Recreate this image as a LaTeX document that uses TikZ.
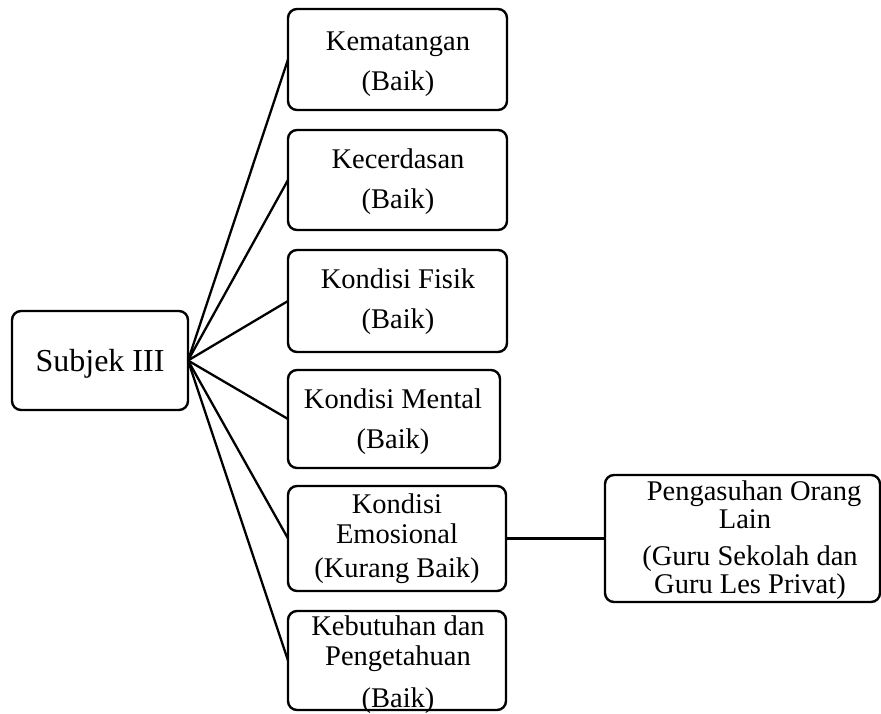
\documentclass[tikz,border=0pt]{standalone}
\usepackage{fontspec}
\setmainfont{Liberation Serif}
\begin{document}
\begin{tikzpicture}[x=1pt,y=-1pt,
  box/.style={draw, line width=2.4pt, rounded corners=9pt, inner sep=0pt, outer sep=0pt},
  txt/.style={inner sep=0pt, anchor=base, font=\fontsize{28.5}{30}\selectfont},
  bigtxt/.style={inner sep=0pt, anchor=base, font=\fontsize{32}{34}\selectfont},
  link/.style={line width=2.3pt}]
\useasboundingbox (0,0) rectangle (881,713);
% boxes
\node[box, minimum width=176pt, minimum height=99pt] (s) at (100,360.5) {};
\node[box, minimum width=219pt, minimum height=101pt] (b1) at (397.5,59.5) {};
\node[box, minimum width=219pt, minimum height=100pt] (b2) at (397.5,180) {};
\node[box, minimum width=219pt, minimum height=102pt] (b3) at (397.5,301) {};
\node[box, minimum width=212pt, minimum height=98pt] (b4) at (394,419) {};
\node[box, minimum width=218pt, minimum height=105pt] (b5) at (397,538.5) {};
\node[box, minimum width=218pt, minimum height=99pt] (b6) at (397,660.5) {};
\node[box, minimum width=275pt, minimum height=127pt] (r) at (742.5,538.5) {};
% texts
\node[bigtxt] (ts) at (100,371) {Subjek III};
\node[txt] (t1a) at (398,50) {Kematangan};
\node[txt] (t1b) at (398,90) {(Baik)};
\node[txt] (t2a) at (398,168) {Kecerdasan};
\node[txt] (t2b) at (398,208) {(Baik)};
\node[txt] (t3a) at (398,288) {Kondisi Fisik};
\node[txt] (t3b) at (398,328) {(Baik)};
\node[txt] (t4a) at (393,408) {Kondisi Mental};
\node[txt] (t4b) at (393,448) {(Baik)};
\node[txt] (t5a) at (397,513) {Kondisi};
\node[txt] (t5b) at (397,543) {Emosional};
\node[txt] (t5c) at (397,577) {(Kurang Baik)};
\node[txt] (t6a) at (398,635) {Kebutuhan dan};
\node[txt] (t6b) at (398,665) {Pengetahuan};
\node[txt] (t6c) at (398,707) {(Baik)};
\node[txt] (tra) at (754,500) {Pengasuhan Orang};
\node[txt] (trb) at (745,528) {Lain};
\node[txt] (trc) at (750,565) {(Guru Sekolah dan};
\node[txt] (trd) at (750,593) {Guru Les Privat)};
% connectors
\foreach \b in {b1,b2,b3,b4,b5,b6}
  \draw[link] (s.east) -- (\b.west);
\draw[link] (b5.east) -- (r.west);
\end{tikzpicture}
\end{document}
